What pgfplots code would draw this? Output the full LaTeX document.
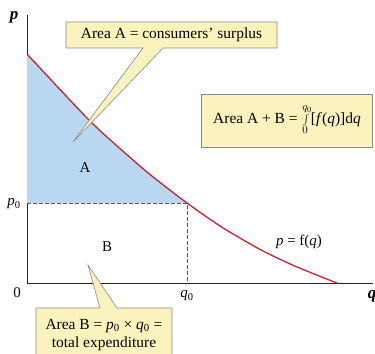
\documentclass[border=0pt]{standalone}
\usepackage{pgfplots}
\pgfplotsset{compat=1.18}
\usepackage{fontspec}
\setmainfont{Liberation Serif}
\definecolor{curvered}{HTML}{C8202F}
\definecolor{areablue}{HTML}{BAD7F1}
\definecolor{boxyellow}{HTML}{FBF3BE}
\definecolor{boxedge}{HTML}{8A8A8A}
\begin{document}
\begin{tikzpicture}
\begin{axis}[at={(27bp,-283bp)}, anchor=south west,
  scale only axis, width=346bp, height=268bp,
  xmin=0, xmax=346, ymin=0, ymax=268,
  axis x line=bottom, axis y line=left,
  axis line style={-, line width=0.9pt, black!85},
  xtick=\empty, ytick=\empty, clip=false]
\addplot[fill=areablue, draw=none, smooth] coordinates {(0,229) (26,201) (60,165) (80,146) (120,111) (160,80)} -- (axis cs:0,80) -- cycle;
\draw[dash pattern=on 3.5bp off 2.5bp, gray!70!black, line width=0.7pt] (axis cs:0,80) -- (axis cs:160,80) -- (axis cs:160,0);
\addplot[curvered, line width=1.3pt, smooth] coordinates {(0,229) (26,201) (60,165) (80,146) (120,111) (160,80) (193,57) (213,45) (236,32) (270,16) (310,0)};
\node at (axis cs:-13,266) {\fontsize{17}{17}\selectfont\textbf{\textit{p}}};
\node at (axis cs:345,-13) {\fontsize{17}{17}\selectfont\textbf{\textit{q}}};
\node at (axis cs:-10,-10) {\fontsize{15}{17}\selectfont 0};
\node at (axis cs:160,-13) {\fontsize{15}{17}\selectfont\textit{q}\textsubscript{0}};
\node at (axis cs:-13,79) {\fontsize{15}{17}\selectfont\textit{p}\textsubscript{0}};
\node at (axis cs:58,115) {\fontsize{15}{17}\selectfont A};
\node at (axis cs:80,36) {\fontsize{15}{17}\selectfont B};
\node at (axis cs:272,41) {\fontsize{15}{17}\selectfont\textit{p} = f(\textit{q})};
\end{axis}
\begin{scope}[x=1bp,y=-1bp, every node/.style={font=\fontsize{15.5}{18}\selectfont}]
\filldraw[fill=boxyellow, draw=boxedge, line width=0.6pt] (66,22) -- (277,22) -- (277,48) -- (163,48) -- (73,142) -- (143,48) -- (66,48) -- cycle;
\node at (171.5,35) {Area A = consumers’ surplus};
\filldraw[fill=boxyellow, draw=boxedge, line width=0.6pt] (201,94) rectangle (372,147);
\node at (287,120) {Area A + B = $\int\limits_0^{q_0}$[\textit{f}(\textit{q})]d\textit{q}};
\filldraw[fill=boxyellow, draw=boxedge, line width=0.6pt] (36,308) -- (100,308) -- (88,265) -- (117,308) -- (172,308) -- (172,358) -- (36,358) -- cycle;
\node at (104,326) {Area B = \textit{p}\textsubscript{0} × \textit{q}\textsubscript{0} =};
\node at (104,344) {total expenditure};
\end{scope}
\pgfresetboundingbox
\path[use as bounding box] (0,0) rectangle (375bp,-354bp);
\end{tikzpicture}
\end{document}
